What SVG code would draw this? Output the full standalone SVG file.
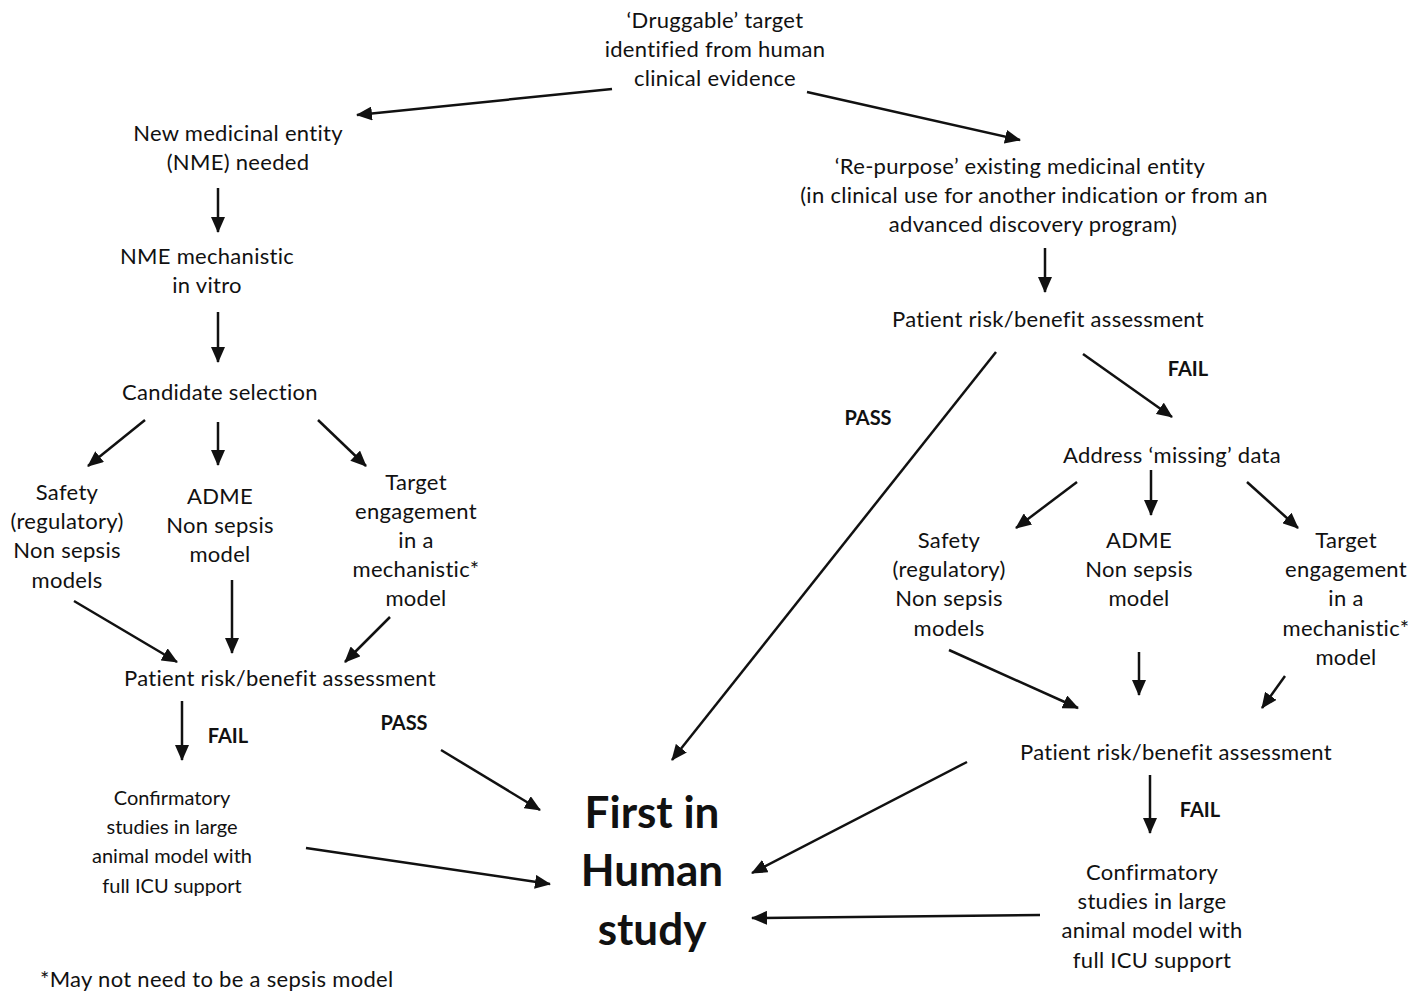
<svg xmlns="http://www.w3.org/2000/svg" width="1426" height="991" viewBox="0 0 1426 991">
<style>
text{font-family:Lato,"Open Sans","Liberation Sans",sans-serif;font-size:22px;letter-spacing:0.3px;fill:#111;text-anchor:middle}
.n{font-size:20px;letter-spacing:0}
.b{font-weight:bold;font-size:20px;letter-spacing:0}
.big{font-weight:bold;font-size:44px;letter-spacing:0}
.l{text-anchor:start}
.c line{stroke:#111;stroke-width:2.5;marker-end:url(#ah)}
</style>
<defs>
<marker id="ah" markerUnits="userSpaceOnUse" markerWidth="16" markerHeight="14" refX="15" refY="7" orient="auto">
<path d="M0,0 L16,7 L0,14 Z" fill="#111"/>
</marker>
</defs>
<rect width="1426" height="991" fill="#fff"/>
<g id="target"><text x="715" y="28">‘Druggable’ target</text><text x="715" y="57">identified from human</text><text x="715" y="86">clinical evidence</text></g>
<g id="nme"><text x="238" y="141">New medicinal entity</text><text x="238" y="170">(NME) needed</text></g>
<g id="repurpose"><text x="1020" y="174">‘Re-purpose’ existing medicinal entity</text><text x="1034" y="203">(in clinical use for another indication or from an</text><text x="1033" y="232">advanced discovery program)</text></g>
<g id="nmemech"><text x="207" y="264">NME mechanistic</text><text x="207" y="293">in vitro</text></g>
<g id="candidate"><text x="220" y="400">Candidate selection</text></g>
<g id="safetyL"><text x="67" y="500">Safety</text><text x="67" y="529">(regulatory)</text><text x="67" y="558">Non sepsis</text><text x="67" y="588">models</text></g>
<g id="admeL"><text x="220" y="504">ADME</text><text x="220" y="533">Non sepsis</text><text x="220" y="562">model</text></g>
<g id="targetL"><text x="416" y="490">Target</text><text x="416" y="519">engagement</text><text x="416" y="548">in a</text><text x="416" y="577">mechanistic*</text><text x="416" y="606">model</text></g>
<g id="prbL"><text x="280" y="686">Patient risk/benefit assessment</text></g>
<g id="failL"><text class="b" x="228" y="743">FAIL</text></g>
<g id="passL"><text class="b" x="404" y="730">PASS</text></g>
<g id="confL"><text class="n" x="172" y="805">Confirmatory</text><text class="n" x="172" y="834">studies in large</text><text class="n" x="172" y="863">animal model with</text><text class="n" x="172" y="893">full ICU support</text></g>
<g id="fih"><text class="big" x="652" y="828">First in</text><text class="big" x="652" y="886">Human</text><text class="big" x="652" y="945">study</text></g>
<g id="note"><text class="l" x="40" y="987">*May not need to be a sepsis model</text></g>
<g id="prbR1"><text x="1048" y="327">Patient risk/benefit assessment</text></g>
<g id="passR"><text class="b" x="868" y="425">PASS</text></g>
<g id="failR1"><text class="b" x="1188" y="376">FAIL</text></g>
<g id="missing"><text x="1172" y="463">Address ‘missing’ data</text></g>
<g id="safetyR"><text x="949" y="548">Safety</text><text x="949" y="577">(regulatory)</text><text x="949" y="606">Non sepsis</text><text x="949" y="636">models</text></g>
<g id="admeR"><text x="1139" y="548">ADME</text><text x="1139" y="577">Non sepsis</text><text x="1139" y="606">model</text></g>
<g id="targetR"><text x="1346" y="548">Target</text><text x="1346" y="577">engagement</text><text x="1346" y="606">in a</text><text x="1346" y="636">mechanistic*</text><text x="1346" y="665">model</text></g>
<g id="prbR2"><text x="1176" y="760">Patient risk/benefit assessment</text></g>
<g id="failR2"><text class="b" x="1200" y="817">FAIL</text></g>
<g id="confR"><text x="1152" y="880">Confirmatory</text><text x="1152" y="909">studies in large</text><text x="1152" y="938">animal model with</text><text x="1152" y="968">full ICU support</text></g>
<g id="connectors" class="c">
<line x1="612" y1="89" x2="357" y2="115"/>
<line x1="807" y1="92" x2="1020" y2="140"/>
<line x1="218" y1="188" x2="218" y2="232"/>
<line x1="218" y1="312" x2="218" y2="362"/>
<line x1="145" y1="420" x2="88" y2="466"/>
<line x1="218" y1="422" x2="218" y2="465"/>
<line x1="318" y1="420" x2="366" y2="466"/>
<line x1="74" y1="601" x2="177" y2="662"/>
<line x1="232" y1="580" x2="232" y2="653"/>
<line x1="390" y1="617" x2="345" y2="662"/>
<line x1="182" y1="701" x2="182" y2="760"/>
<line x1="441" y1="750" x2="540" y2="810"/>
<line x1="306" y1="848" x2="550" y2="884"/>
<line x1="1045" y1="248" x2="1045" y2="292"/>
<line x1="996" y1="352" x2="672" y2="760"/>
<line x1="1083" y1="354" x2="1172" y2="417"/>
<line x1="1077" y1="482" x2="1016" y2="528"/>
<line x1="1151" y1="470" x2="1151" y2="515"/>
<line x1="1247" y1="482" x2="1298" y2="528"/>
<line x1="949" y1="650" x2="1078" y2="708"/>
<line x1="1139" y1="652" x2="1139" y2="695"/>
<line x1="1285" y1="676" x2="1262" y2="708"/>
<line x1="967" y1="762" x2="752" y2="873"/>
<line x1="1150" y1="775" x2="1150" y2="833"/>
<line x1="1040" y1="915" x2="752" y2="918"/>
</g>
</svg>
